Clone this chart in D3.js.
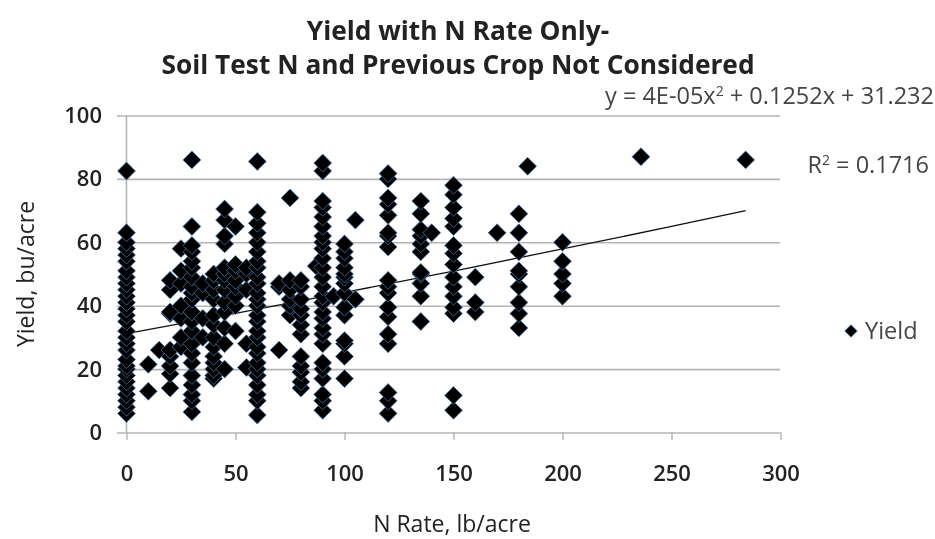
<!DOCTYPE html>
<html>
<head>
<meta charset="utf-8">
<script src="https://cdn.jsdelivr.net/npm/d3@7"></script>
<style>
  body { margin: 0; background: #fff; }
  text { font-family: "Open Sans", sans-serif; fill: #222; }
  .tickText { font-weight: 600; font-size: 22px; }
  .axisTitle { font-weight: 500; font-size: 23px; }
  .note { fill: #444; font-size: 23.5px; }
</style>
</head>
<body>
<div id="chart"></div>
<script>
// n rates with the yields stacked above each one
const rates = [0, 10, 15, 20, 25, 30, 35, 40, 45, 50, 55, 60, 70, 75, 80, 87, 90, 95, 100, 105, 120, 135, 140, 150, 160, 170, 180, 184, 200, 236, 284];
const yields = [
  [6, 8, 10, 12, 14, 16, 18, 20, 21, 23, 26, 28, 30, 32, 35, 37, 39, 41, 43, 45, 47, 49, 51, 54, 56, 58, 60, 63, 82.5],
  [13, 21.5],
  [26],
  [14, 18.5, 21, 24, 26, 37.5, 38, 45, 48],
  [27, 30, 36, 40, 47, 51, 58],
  [6.5, 10, 12, 15, 18, 22, 25, 28, 32, 35, 38, 42, 44, 46, 49, 52, 54, 57, 59, 65, 86],
  [30, 36, 44, 47],
  [17, 18, 20, 22, 24, 27, 30, 34, 37, 42, 45, 48, 50],
  [20, 28, 33, 38, 41, 45, 48, 50, 52, 59.5, 62, 67, 70.5],
  [32, 40, 43, 46, 48, 51, 53, 65],
  [20.5, 28, 45, 50, 52],
  [5.5, 10, 12, 15, 18, 20, 22, 25, 27, 30, 32, 35, 37, 40, 42, 44, 47, 49, 52, 54, 57, 60, 63, 66, 69.5, 85.5],
  [26, 46, 47],
  [37, 40, 42, 45, 48, 74],
  [14, 16, 19, 21, 24, 31, 34, 37, 39, 42, 46, 48],
  [52.5],
  [7, 10, 12, 17, 20, 22, 28, 31, 33, 36, 38, 41, 43, 46, 49, 52, 55, 58, 60, 62, 65, 68, 71, 73, 82.5, 85],
  [43],
  [17, 24, 28, 29, 37, 39.5, 44, 47, 49, 50, 52, 55, 57, 59.5],
  [42, 67],
  [6, 10, 12.6, 28, 31, 36.5, 39.5, 44, 46, 48, 58.5, 62, 63, 68.5, 72, 74, 80, 81.7],
  [35, 43, 47, 50, 50.5, 57, 59.5, 62, 64, 69, 73],
  [63],
  [7, 11.7, 37.5, 39.5, 43, 46, 49, 53, 56.5, 59, 65, 67.5, 71, 75, 78],
  [38, 41, 49],
  [63],
  [33, 37.5, 41, 46, 50, 51, 57, 63, 69],
  [84],
  [43, 47, 50, 54, 60],
  [87],
  [86]
];

// trendline read along its length
const trendX = [0, 50, 100, 150, 200, 250, 284];
const trendY = [31.2, 37.6, 44.2, 50.9, 57.9, 65.0, 70];

const yTicks = [0, 20, 40, 60, 80, 100];
const xTicks = [0, 50, 100, 150, 200, 250, 300];
const titleLines = ['Yield with N Rate Only-', 'Soil Test N and Previous Crop Not Considered'];

let svgWidth = 935;
let svgHeight = 539;
let margin = { top: 115, right: 155, bottom: 107, left: 126 };
let width = svgWidth - margin.left - margin.right;
let height = svgHeight - margin.top - margin.bottom;
let gridColor = '#b4b4b4';

let svg = d3.select('#chart').append('svg')
  .attr('width', svgWidth)
  .attr('height', svgHeight);

// soften everything a little, the source is a scaled up bitmap
let soft = svg.append('defs').append('filter').attr('id', 'soft');
soft.append('feGaussianBlur').attr('stdDeviation', 0.6);

let root = svg.append('g').attr('filter', 'url(#soft)');
let chartGroup = root.append('g')
  .attr('transform', `translate(${margin.left}, ${margin.top})`);

let x = d3.scaleLinear().domain([0, 300]).range([0.5, width + 0.5]);
let y = d3.scaleLinear().domain([0, 100]).range([height + 0.5, 0.5]);

// gridlines and y axis
let yAxis = chartGroup.append('g')
  .call(d3.axisLeft(y).tickValues(yTicks).tickSize(9).tickPadding(15));
yAxis.selectAll('.tick line')
  .attr('x2', width)
  .attr('x1', -9)
  .attr('stroke', gridColor)
  .attr('stroke-width', 1.6);
yAxis.select('.domain').remove();
yAxis.selectAll('text')
  .attr('class', 'tickText')
  .attr('font-size', null);

let xAxis = chartGroup.append('g')
  .attr('transform', `translate(0, ${height})`)
  .call(d3.axisBottom(x).tickValues(xTicks).tickSize(8).tickPadding(25).tickSizeOuter(0));
xAxis.selectAll('.tick line')
  .attr('stroke', gridColor)
  .attr('stroke-width', 1.4);
xAxis.select('.domain').remove();
xAxis.selectAll('text')
  .attr('class', 'tickText')
  .attr('font-size', null);

// y axis line on top of the gridlines
chartGroup.append('line')
  .attr('x1', x(0)).attr('x2', x(0))
  .attr('y1', y(100)).attr('y2', y(0))
  .attr('stroke', gridColor)
  .attr('stroke-width', 1.6);

// trendline, sits behind the markers
let trendLine = d3.line()
  .x(d => x(d))
  .y((d, i) => y(trendY[i]));

chartGroup.append('path')
  .attr('d', trendLine(trendX))
  .attr('fill', 'none')
  .attr('stroke', '#111')
  .attr('stroke-width', 1.3);

// flatten the columns into points
let points = [];
rates.forEach(function(rate, i) {
  yields[i].forEach(function(value) {
    points.push({ rate: rate, value: value });
  });
});

let diamond = d3.symbol().type(d3.symbolSquare).size(160);

chartGroup.selectAll('.point')
  .data(points)
  .enter()
  .append('path')
  .classed('point', true)
  .attr('d', diamond)
  .attr('transform', d => `translate(${x(d.rate)}, ${y(d.value)}) rotate(45)`)
  .attr('fill', '#000')
  .attr('stroke', '#4a7fb5')
  .attr('stroke-width', 0.7);

// title
root.selectAll('.title')
  .data(titleLines)
  .enter()
  .append('text')
  .classed('title', true)
  .attr('x', 458)
  .attr('y', (d, i) => 40 + i * 34)
  .attr('text-anchor', 'middle')
  .attr('font-size', 26.3)
  .attr('font-weight', 700)
  .text(d => d);

// axis titles
root.append('text')
  .classed('axisTitle', true)
  .attr('x', 452)
  .attr('y', 532)
  .attr('text-anchor', 'middle')
  .text('N Rate, lb/acre');

root.append('text')
  .classed('axisTitle', true)
  .attr('transform', 'translate(34, 274) rotate(-90)')
  .attr('text-anchor', 'middle')
  .text('Yield, bu/acre');

// equation labels
let eq = root.append('text')
  .classed('note', true)
  .attr('x', 934)
  .attr('y', 104)
  .attr('text-anchor', 'end');
eq.append('tspan').text('y = 4E-05x');
eq.append('tspan').attr('dy', -8).attr('font-size', 14).text('2');
eq.append('tspan').attr('dy', 8).text(' + 0.1252x + 31.232');

let r2 = root.append('text')
  .classed('note', true)
  .attr('x', 929)
  .attr('y', 173)
  .attr('text-anchor', 'end');
r2.append('tspan').text('R');
r2.append('tspan').attr('dy', -8).attr('font-size', 14).text('2');
r2.append('tspan').attr('dy', 8).text(' = 0.1716');

// legend
root.append('path')
  .attr('d', d3.symbol().type(d3.symbolSquare).size(80))
  .attr('transform', 'translate(851, 331) rotate(45)')
  .attr('fill', '#000')
  .attr('stroke', '#4a7fb5')
  .attr('stroke-width', 0.7);

root.append('text')
  .classed('note', true)
  .attr('x', 865)
  .attr('y', 339)
  .text('Yield');
</script>
</body>
</html>
